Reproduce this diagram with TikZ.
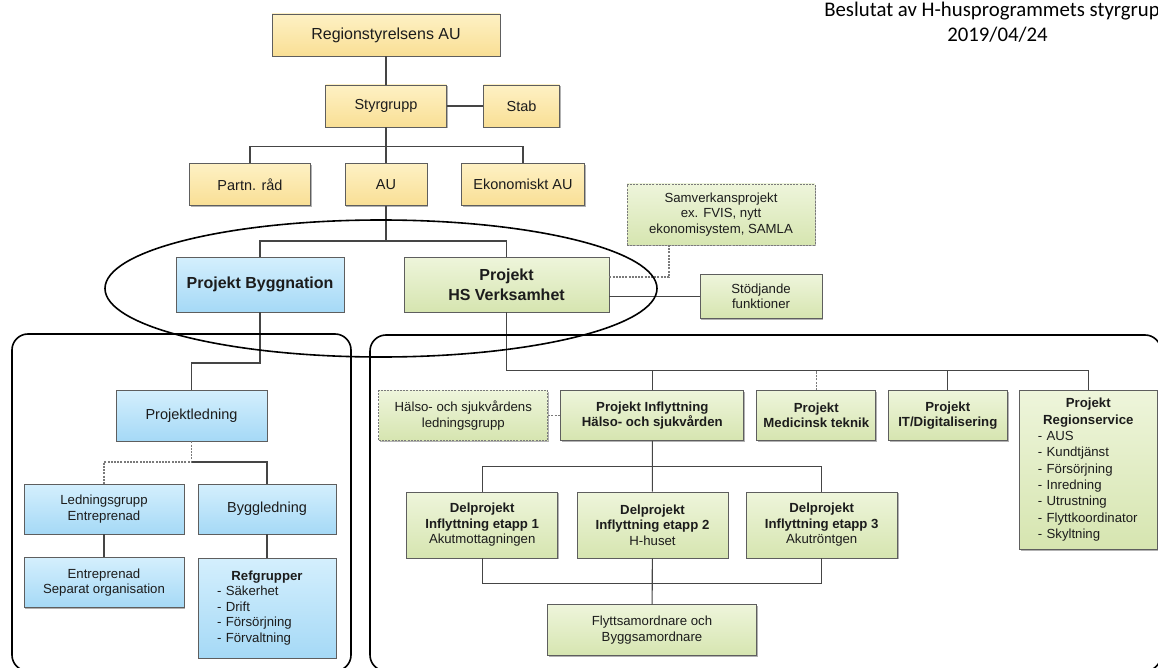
\documentclass[tikz,border=0pt]{standalone}
\usepackage{fontspec}
\setmainfont{Liberation Sans}
\newfontfamily\notefont{Carlito}
\usetikzlibrary{calc}
\usetikzlibrary{positioning}
\usetikzlibrary{shadows}
\definecolor{lineclr}{HTML}{454545}
\definecolor{boxline}{HTML}{5E5E5E}
\definecolor{dashclr}{HTML}{7A7A7A}
\definecolor{textclr}{HTML}{1C1C1C}
\definecolor{yellowtop}{HTML}{FEF1C4}
\definecolor{yellowbot}{HTML}{F9DF95}
\definecolor{bluetop}{HTML}{D4EFFD}
\definecolor{bluebot}{HTML}{A5D9F6}
\definecolor{greentop}{HTML}{EEF5DB}
\definecolor{greenbot}{HTML}{D6E5B0}
\newcommand{\bigtext}{\fontsize{14.5}{17}\selectfont}
\newcommand{\smalltext}{\fontsize{13.2}{15.5}\selectfont}
\newcommand{\headtext}{\bfseries\fontsize{16}{20}\selectfont}
\newcommand{\rowh}{50}
\tikzstyle{unit}=[
  draw=boxline,
  line width=0.9pt,
  inner sep=0pt,
  align=center,
  text=textclr,
  drop shadow={shadow xshift=1.3pt, shadow yshift=-1.3pt, opacity=0.3, fill=black}
]
\tikzstyle{ybox}=[unit, top color=yellowtop, bottom color=yellowbot, font=\bigtext]
\tikzstyle{bbox}=[unit, top color=bluetop, bottom color=bluebot, font=\smalltext]
\tikzstyle{gbox}=[unit, top color=greentop, bottom color=greenbot, font=\smalltext]
\tikzstyle{dbox}=[gbox, draw=dashclr, dash pattern=on 2pt off 1.2pt]
\tikzstyle{link}=[
  draw=lineclr,
  line width=1.1pt
]
\tikzstyle{dlink}=[link, draw=dashclr, dash pattern=on 2pt off 1.2pt]
\tikzstyle{ring}=[draw=black, line width=1.6pt]

\begin{document}
\begin{tikzpicture}[x=1pt, y=-1pt]
  \useasboundingbox (0,0) rectangle (1158,668);

  \node[font=\notefont\fontsize{20.8}{24.5}\selectfont, align=center, inner sep=0pt, text=black]
    (beslut) at (997.5,22) {Beslutat av H-husprogrammets styrgrupp\\2019/04/24};

  \node[ybox, minimum width=228, minimum height=42, font=\fontsize{16}{19}\selectfont] (rsau) at (386,  35) {Regionstyrelsens AU};
  \node[ybox, minimum width=121, minimum height=42] (styr)  at (386,  106) {Styrgrupp};
  \node[ybox, minimum width=76,  minimum height=42] (stab)  at (521.5,106) {Stab};
  \node[ybox, minimum width=121, minimum height=42] (partn) at (250,  184.5) {Partn. råd};
  \node[ybox, minimum width=82,  minimum height=42] (au)    at (386,  184.5) {AU};
  \node[ybox, minimum width=123, minimum height=42] (ekau)  at (523,  184.5) {Ekonomiskt AU};

  \node[bbox, minimum width=168, minimum height=55, font=\headtext] (bygg) at (260,  284.5) {Projekt Byggnation};
  \node[gbox, minimum width=205, minimum height=55, font=\headtext] (hsv)  at (506.5,284.5) {Projekt\\HS Verksamhet};
  \node[dbox, minimum width=188, minimum height=61] (samv) at (721,214.5) {Samverkansprojekt\\ex. FVIS, nytt\\ekonomisystem, SAMLA};
  \node[gbox, minimum width=122, minimum height=44] (stod) at (761,296.5) {Stödjande\\funktioner};

  \node[bbox, minimum width=151, minimum height=51, font=\bigtext] (pled)  at (191.5,415.5) {Projektledning};
  \node[bbox, minimum width=160, minimum height=\rowh]             (lgrp)  at (104,  509) {Ledningsgrupp\\Entreprenad};
  \node[bbox, minimum width=138, minimum height=\rowh, font=\bigtext] (byggl) at (267,  509) {Byggledning};
  \node[bbox, minimum width=160, minimum height=\rowh]             (entr)  at (104,  582.5) {Entreprenad\\Separat organisation};
  \node[bbox, minimum width=138, minimum height=100, text width=100, align=left] (refg) at (267,608)
    {{\centering\textbf{Refgrupper}\par}- Säkerhet\\- Drift\\- Försörjning\\- Förvaltning};

  \node[dbox, minimum width=169, minimum height=\rowh]                         (hsled) at (463.3,415.5) {Hälso- och sjukvårdens\\ledningsgrupp};
  \node[gbox, minimum width=183, minimum height=\rowh, font=\smalltext\bfseries] (pinfl) at (652.3,415.5) {Projekt Inflyttning\\Hälso- och sjukvården};
  \node[gbox, minimum width=119, minimum height=\rowh, font=\smalltext\bfseries] (pmed)  at (816.3,415.5) {Projekt\\Medicinsk teknik};
  \node[gbox, minimum width=119, minimum height=\rowh, font=\smalltext\bfseries] (pit)   at (947.8,415.5) {Projekt\\IT/Digitalisering};
  \node[gbox, minimum width=138, minimum height=159, text width=101, align=left,
        font=\fontsize{13.2}{16.3}\selectfont] (preg) at (1088.3,469.7)
    {{\centering\textbf{Projekt}\\\textbf{Regionservice}\par}- AUS\\- Kundtjänst\\- Försörjning\\- Inredning\\- Utrustning\\- Flyttkoordinator\\- Skyltning};

  \node[gbox, minimum width=151, minimum height=66] (dp1) at (482.2,525) {\textbf{Delprojekt}\\\textbf{Inflyttning etapp 1}\\Akutmottagningen};
  \node[gbox, minimum width=151, minimum height=66] (dp2) at (652.5,525) {\textbf{Delprojekt}\\\textbf{Inflyttning etapp 2}\\H-huset};
  \node[gbox, minimum width=151, minimum height=66] (dp3) at (821.7,525) {\textbf{Delprojekt}\\\textbf{Inflyttning etapp 3}\\Akutröntgen};
  \node[gbox, minimum width=209, minimum height=51] (flytt) at (652,630.3) {Flyttsamordnare och\\Byggsamordnare};

  \coordinate (topbus)    at (386,  146.4);
  \coordinate (aubus)     at (386,  241);
  \coordinate (byggbend)  at (260,  363);
  \coordinate (pledjn)    at (191.5,462);
  \coordinate (hsbus)     at (506.5,370.7);
  \coordinate (dpbus)     at (652.3,466.7);
  \coordinate (flyttbus)  at (652.3,583.3);
  \coordinate (samvjn)    at (669,  277);

  \draw[link] (rsau) -- (styr);
  \draw[link] (styr) -- (stab);
  \draw[link] (styr) -- (au);
  \draw[link] (partn) |- (topbus) -| (ekau);
  \draw[link] (au) -- (aubus);
  \draw[link] (bygg) |- (aubus) -| (hsv);
  \draw[dlink] (samvjn -| hsv.east) -- (samvjn) -- (samvjn |- samv.south);
  \draw[link] (stod.west -| hsv.east) -- (stod);

  \draw[link] (bygg) -- (byggbend) -| (pled);
  \draw[dlink] (pled) -- (pledjn) -| (lgrp);
  \draw[link] (pledjn) -| (byggl);
  \draw[link] (lgrp) -- (entr);
  \draw[link] (byggl) -- (refg);

  \draw[link] (hsv) -- (hsbus) -| (preg);
  \draw[link] (pinfl) -- (pinfl |- hsbus);
  \draw[dlink] (pmed) -- (pmed |- hsbus);
  \draw[link] (pit) -- (pit |- hsbus);
  \draw[dlink] (hsled) -- (pinfl);
  \draw[link] (dp1) |- (dpbus) -| (dp3);
  \draw[link] (pinfl) -- (dp2);
  \draw[link] (dp1) |- (flyttbus) -| (dp3);
  \draw[link] (dp2) -- (flytt);

  \draw[ring] (381,288.5) ellipse [x radius=276, y radius=68.5];
  \draw[ring, rounded corners=16] (12,334) rectangle (351,671);
  \draw[ring, rounded corners=16] (370,335) rectangle (1161,671);
\end{tikzpicture}
\end{document}
